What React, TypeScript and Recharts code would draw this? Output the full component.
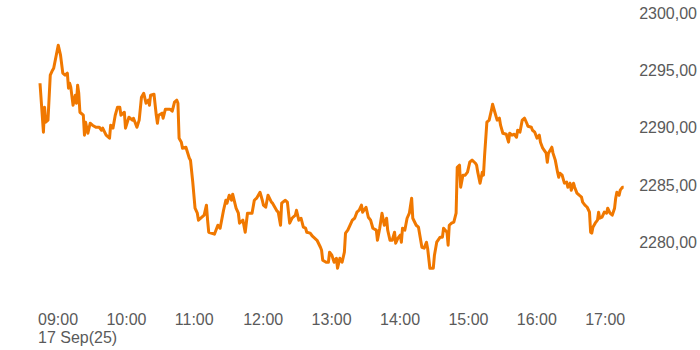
import React from 'react';
import { LineChart, Line, XAxis, YAxis } from 'recharts';

const sessionDate = '17 Sep(25)';
const xTickLabels = ['09:00', '10:00', '11:00', '12:00', '13:00', '14:00', '15:00', '16:00', '17:00'];
const yTicks = [2280, 2285, 2290, 2295, 2300];

// minutes after 09:00
const minutes = [
  0, 3, 4, 5, 7, 9, 11, 12, 16, 18, 20, 22, 24, 25, 26, 27, 29, 31, 32, 33, 34, 35, 38, 39, 40, 42, 44, 46, 49, 52,
  54, 55, 58, 61, 62, 64, 66, 68, 70, 71, 74, 75, 78, 81, 82, 85, 87, 89, 91, 93, 95, 96, 97, 100, 102, 103, 104, 107, 108, 110,
  114, 116, 118, 120, 121, 122, 124, 125, 128, 131, 132, 134, 136, 138, 139, 142, 144, 146, 147, 148, 153, 156, 158, 161, 163, 164, 166, 168, 169, 172,
  174, 175, 178, 180, 182, 186, 188, 190, 193, 195, 196, 198, 200, 203, 204, 208, 209, 211, 212, 215, 217, 219, 221, 224, 225, 227, 229, 231, 233, 234,
  237, 239, 243, 246, 247, 248, 251, 253, 254, 256, 258, 260, 261, 263, 265, 267, 268, 270, 272, 274, 276, 278, 280, 282, 283, 286, 288, 290, 292, 295,
  296, 298, 300, 302, 304, 305, 307, 309, 311, 312, 314, 316, 317, 318, 320, 322, 324, 326, 327, 330, 332, 335, 337, 339, 340, 342, 345, 346, 348, 351,
  353, 354, 357, 358, 359, 361, 363, 365, 366, 368, 369, 371, 373, 375, 377, 379, 382, 383, 384, 386, 388, 389, 390, 392, 394, 396, 397, 399, 401, 403,
  404, 406, 409, 411, 412, 414, 416, 418, 419, 421, 423, 425, 427, 428, 431, 432, 434, 436, 438, 439, 441, 444, 445, 446, 449, 450, 452, 454, 455, 456,
  458, 460, 462, 463, 465, 466, 468, 469, 471, 473, 475, 476, 478, 480, 482, 483, 484, 485, 487, 489, 490, 491, 493, 495, 497, 498, 500, 502, 504, 505,
  506, 508, 509, 511, 512,
];

const prices = [
  2293.87, 2289.6, 2291.78, 2290.47, 2290.65, 2294.57, 2295.01, 2295.18, 2297.19, 2296.32, 2294.75, 2294.57, 2294.75, 2293.44, 2293.87, 2293.53, 2291.95, 2292.83, 2292.13, 2293.7, 2293.0, 2291.34, 2291.08, 2289.34, 2290.47, 2289.51, 2290.38, 2290.21, 2290.03, 2290.03,
  2289.77, 2289.95, 2289.34, 2289.08, 2290.21, 2289.95, 2291.08, 2291.78, 2291.78, 2291.08, 2291.34, 2289.95, 2290.91, 2290.65, 2290.82, 2290.03, 2290.65, 2292.65, 2293.0, 2292.13, 2292.39, 2291.95, 2292.83, 2292.91, 2291.08, 2290.38, 2291.08, 2291.26, 2290.82, 2291.61,
  2291.61, 2291.43, 2292.22, 2292.39, 2292.13, 2289.08, 2288.73, 2288.2, 2288.29, 2287.33, 2287.16, 2285.24, 2282.97, 2282.53, 2281.92, 2282.18, 2282.36, 2283.23, 2281.92, 2280.87, 2280.7, 2281.48, 2281.22, 2282.79, 2283.66, 2283.4, 2284.1, 2283.66, 2284.19, 2282.97,
  2282.53, 2281.66, 2281.92, 2280.87, 2282.53, 2282.53, 2283.66, 2283.84, 2284.36, 2283.66, 2283.23, 2283.05, 2284.1, 2283.49, 2283.4, 2282.71, 2282.62, 2281.48, 2283.4, 2283.66, 2283.49, 2281.66, 2282.09, 2282.36, 2282.79, 2281.92, 2282.09, 2281.31, 2281.22, 2280.87,
  2280.79, 2280.52, 2280.17, 2279.56, 2279.3, 2278.43, 2278.25, 2278.25, 2279.13, 2278.87, 2278.25, 2278.6, 2277.73, 2278.6, 2278.25, 2279.13, 2280.79, 2281.05, 2281.48, 2281.92, 2282.09, 2282.62, 2282.79, 2283.23, 2282.62, 2283.05, 2282.18, 2281.92, 2281.22, 2281.05,
  2280.17, 2281.22, 2282.53, 2281.48, 2282.09, 2281.05, 2280.17, 2280.17, 2280.87, 2279.91, 2280.35, 2280.61, 2280.0, 2281.22, 2281.05, 2282.09, 2282.53, 2283.84, 2282.09, 2281.48, 2281.31, 2279.56, 2279.48, 2280.0, 2279.48, 2277.73, 2277.73, 2278.87, 2280.0, 2280.44,
  2280.44, 2281.22, 2280.87, 2279.74, 2281.48, 2281.66, 2281.75, 2282.53, 2286.54, 2286.72, 2284.8, 2285.85, 2285.85, 2286.11, 2286.98, 2287.16, 2286.89, 2286.72, 2286.11, 2285.15, 2286.11, 2285.85, 2287.59, 2290.47, 2290.65, 2291.52, 2292.04, 2291.34, 2290.65, 2290.82,
  2290.21, 2289.51, 2289.42, 2288.73, 2289.51, 2289.34, 2289.42, 2289.16, 2289.77, 2289.6, 2290.65, 2290.82, 2290.38, 2290.12, 2290.03, 2289.77, 2289.6, 2289.08, 2289.34, 2288.73, 2288.2, 2287.77, 2286.98, 2287.77, 2288.29, 2287.77, 2287.16, 2286.11, 2285.67, 2286.02,
  2285.85, 2285.15, 2285.24, 2284.8, 2285.15, 2284.54, 2285.15, 2284.8, 2284.28, 2284.1, 2283.93, 2283.49, 2283.23, 2283.05, 2282.62, 2280.87, 2280.79, 2281.31, 2281.66, 2281.92, 2282.62, 2282.09, 2282.18, 2282.62, 2282.53, 2282.97, 2282.53, 2282.36, 2282.97, 2283.84,
  2284.36, 2284.1, 2284.54, 2284.8, 2284.8,
];

const data = minutes.map((m, i) => ({ t: m, price: prices[i] }));
const xTicks = xTickLabels.map((l) => {
  const [h, mm] = l.split(':').map(Number);
  return (h - 9) * 60 + mm;
});

const FONT = '"Liberation Sans", Arial, sans-serif';
const TEXT = '#5a5a5a';

const fmt = (v: number) => v.toFixed(2).replace('.', ',');

const XTick = (props: any) => {
  const { x, y, payload } = props;
  const idx = xTicks.indexOf(payload.value);
  return (
    <g>
      <text x={x - 2} y={y} dy="0.355em" textAnchor="start" fill={TEXT} fontSize={16} fontFamily={FONT}>
        {xTickLabels[idx]}
      </text>
      {idx === 0 && (
        <text x={x - 2} y={y + 18} dy="0.355em" textAnchor="start" fill={TEXT} fontSize={16} fontFamily={FONT}>
          {sessionDate}
        </text>
      )}
    </g>
  );
};

const YTick = (props: any) => {
  const { y, payload } = props;
  return (
    <text x={697} y={y} dy="0.355em" textAnchor="end" fill={TEXT} fontSize={16} fontFamily={FONT}>
      {fmt(payload.value)}
    </text>
  );
};

export default function App() {
  return (
    <div style={{ position: 'absolute', left: 0, top: 0, width: 700, height: 350, background: '#fff' }}>
      <LineChart width={700} height={350} data={data} margin={{ top: 13, right: 0, left: 40, bottom: 0 }}>
        <XAxis
          dataKey="t"
          type="number"
          domain={[0, 525]}
          ticks={xTicks}
          axisLine={false}
          tickLine={false}
          tickSize={0}
          tickMargin={20}
          height={50.5}
          interval={0}
          tick={<XTick />}
        />
        <YAxis
          orientation="right"
          domain={[2275, 2300]}
          ticks={yTicks}
          axisLine={false}
          tickLine={false}
          width={61.5}
          interval={0}
          tick={<YTick />}
        />
        <Line
          type="linear"
          dataKey="price"
          stroke="#f07800"
          strokeWidth={3}
          dot={false}
          isAnimationActive={false}
          strokeLinejoin="round"
        />
      </LineChart>
    </div>
  );
}
